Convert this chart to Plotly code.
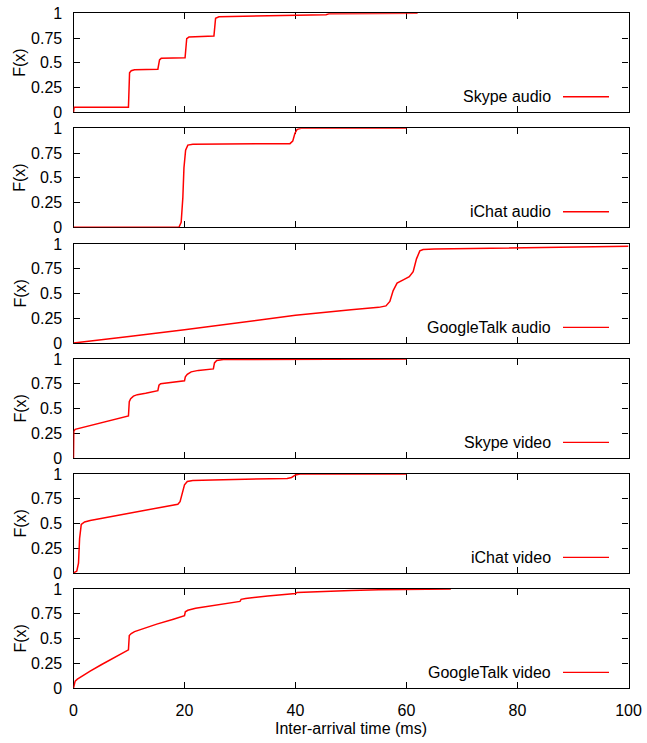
import plotly.graph_objects as go

# ---------------- data ----------------
series_names = ["Skype audio", "iChat audio", "GoogleTalk audio",
                "Skype video", "iChat video", "GoogleTalk video"]

skype_audio_x = [0, 0.1, 9.9, 10.1, 10.4, 11, 15.2, 15.5, 15.8, 20.1, 20.4, 20.8,
                 25.3, 25.6, 26.2, 40, 45.5, 46, 62]
skype_audio_y = [0, 0.05, 0.052, 0.40, 0.42, 0.43, 0.435, 0.53, 0.545, 0.55, 0.745, 0.76,
                 0.77, 0.95, 0.965, 0.975, 0.985, 0.995, 1.0]

ichat_audio_x = [0, 19.0, 19.4, 19.7, 19.9, 20.2, 20.6, 21.5, 39.0, 39.5, 39.9, 40.3, 41, 60]
ichat_audio_y = [0, 0.0, 0.05, 0.3, 0.6, 0.78, 0.83, 0.84, 0.845, 0.87, 0.95, 0.99, 1.0, 1.0]

gtalk_audio_x = [0, 5, 10, 20, 30, 40, 50, 55, 56.3, 57, 57.6, 58.3, 59.5, 60.5,
                 61.2, 61.8, 62.4, 63, 65, 80, 100]
gtalk_audio_y = [0, 0.03, 0.065, 0.135, 0.205, 0.28, 0.335, 0.36, 0.375, 0.42, 0.53, 0.605,
                 0.64, 0.67, 0.72, 0.85, 0.93, 0.945, 0.95, 0.96, 0.977]

skype_video_x = [0, 0.05, 0.3, 5, 9.9, 10.05, 10.3, 10.8, 11.5, 13, 15.2, 15.4, 15.7,
                 20.0, 20.15, 20.5, 21.2, 22.5, 25.2, 25.4, 25.8, 27, 60]
skype_video_y = [0, 0.27, 0.29, 0.355, 0.425, 0.57, 0.6, 0.625, 0.64, 0.655, 0.68, 0.735,
                 0.75, 0.78, 0.82, 0.845, 0.87, 0.885, 0.9, 0.96, 0.985, 0.995, 1.0]

ichat_video_x = [0, 0.3, 0.6, 0.9, 1.1, 1.4, 2, 3, 5, 10, 15, 18.8, 19.2, 19.6, 20,
                 20.5, 21.5, 25, 30, 38.5, 39.3, 40, 40.8, 60]
ichat_video_y = [0, 0.01, 0.02, 0.1, 0.35, 0.49, 0.515, 0.53, 0.55, 0.60, 0.65, 0.695,
                 0.72, 0.8, 0.89, 0.925, 0.935, 0.94, 0.945, 0.955, 0.965, 0.99, 1.0, 1.0]

gtalk_video_x = [0, 0.1, 0.3, 0.7, 1.5, 3, 5, 7.5, 9.9, 10.05, 10.4, 11, 12, 15, 18, 20,
                 20.15, 20.6, 22, 25, 28, 30, 30.2, 31, 35, 40, 40.3, 45, 50, 55, 60, 68]
gtalk_video_y = [0, 0.04, 0.07, 0.09, 0.12, 0.17, 0.235, 0.31, 0.385, 0.53, 0.55, 0.57,
                 0.59, 0.645, 0.695, 0.73, 0.77, 0.785, 0.805, 0.83, 0.86, 0.875, 0.895,
                 0.905, 0.93, 0.955, 0.965, 0.977, 0.985, 0.992, 0.997, 1.0]

series_x = [skype_audio_x, ichat_audio_x, gtalk_audio_x,
            skype_video_x, ichat_video_x, gtalk_video_x]
series_y = [skype_audio_y, ichat_audio_y, gtalk_audio_y,
            skype_video_y, ichat_video_y, gtalk_video_y]

x_ticks = [0, 20, 40, 60, 80, 100]
y_ticks = [0, 0.25, 0.5, 0.75, 1]
y_tick_text = ["0", "0.25", "0.5", "0.75", "1"]
x_title = "Inter-arrival time (ms)"
y_title = "F(x)"

# ---------------- layout ----------------
W, H = 647, 743
FONT = "Liberation Sans, Arial, Helvetica, sans-serif"
FS = 16
px_left, px_right = 73.5, 628.5
panels_px = [(13.3, 112.3), (128.3, 227.3), (244, 343), (359, 458), (474, 573), (589, 688)]

fig = go.Figure()
layout = dict(
    width=W, height=H,
    margin=dict(l=0, r=0, t=0, b=0, autoexpand=False),
    paper_bgcolor="white", plot_bgcolor="white",
    showlegend=False,
    font=dict(family=FONT, size=FS, color="black"),
)
annotations = []
shapes = []
tf = dict(family=FONT, size=FS, color="black")

for i in range(6):
    n = "" if i == 0 else str(i + 1)
    top, bot = panels_px[i]
    fig.add_trace(go.Scatter(
        x=series_x[i], y=series_y[i], mode="lines",
        line=dict(color="#ff0000", width=1.5),
        xaxis="x" + n, yaxis="y" + n, name=series_names[i],
    ))
    last = (i == 5)
    layout["xaxis" + n] = dict(
        domain=[px_left / W, px_right / W], range=[0, 100],
        anchor="y" + n, tickvals=x_ticks, ticks="inside", ticklen=6,
        tickcolor="black", tickwidth=1, mirror="ticks", showline=True,
        linecolor="black", linewidth=1.2, showgrid=False, zeroline=False,
        showticklabels=last, ticklabelstandoff=8, automargin=False,
        layer="below traces", tickfont=tf,
    )
    layout["yaxis" + n] = dict(
        domain=[1 - bot / H, 1 - top / H], range=[0, 1],
        anchor="x" + n, tickvals=y_ticks, ticktext=y_tick_text,
        ticks="inside", ticklen=6, tickcolor="black", tickwidth=1,
        mirror="ticks", showline=True, linecolor="black", linewidth=1.2,
        showgrid=False, zeroline=False, ticklabelstandoff=7, automargin=False,
        layer="below traces", tickfont=tf,
    )
    # y label
    annotations.append(dict(
        text=y_title, textangle=-90, xref="paper", yref="paper",
        x=20 / W, y=1 - (top + bot) / 2 / H, xanchor="center", yanchor="middle",
        showarrow=False, font=tf))
    # gnuplot-style key: text then line sample
    key_y = 0.157
    annotations.append(dict(
        text=series_names[i], xref="x" + n + " domain", yref="y" + n + " domain",
        x=(552.5 - px_left) / (px_right - px_left), y=key_y,
        xanchor="right", yanchor="middle", showarrow=False, font=tf))
    shapes.append(dict(
        type="line", xref="x" + n + " domain", yref="y" + n + " domain",
        x0=(563 - px_left) / (px_right - px_left), x1=(609 - px_left) / (px_right - px_left),
        y0=key_y, y1=key_y, line=dict(color="#ff0000", width=1.3)))

# x axis title
annotations.append(dict(
    text=x_title, xref="paper", yref="paper",
    x=(px_left + px_right) / 2 / W, y=1 - 728 / H,
    xanchor="center", yanchor="middle", showarrow=False, font=tf))

layout["annotations"] = annotations
layout["shapes"] = shapes
fig.update_layout(**layout)
fig.write_html("out.html")
